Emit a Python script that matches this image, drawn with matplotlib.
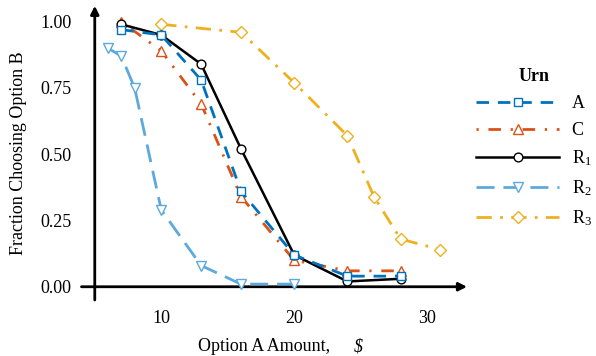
import matplotlib
matplotlib.use("Agg")
import matplotlib.pyplot as plt
from matplotlib.ticker import FormatStrFormatter

plt.rcParams['font.family'] = ['Liberation Serif', 'DejaVu Serif']
plt.rcParams['mathtext.fontset'] = 'custom'
plt.rcParams['mathtext.rm'] = 'Liberation Serif'
plt.rcParams['mathtext.it'] = 'Liberation Serif:italic'
plt.rcParams['mathtext.bf'] = 'Liberation Serif:bold'

# ---- data ----
x_A = [7, 10, 13, 16, 20, 24, 28]
y_A = [0.97, 0.95, 0.78, 0.36, 0.12, 0.04, 0.04]
x_C = [7, 10, 13, 16, 20, 24, 28]
y_C = [1.00, 0.89, 0.69, 0.34, 0.10, 0.06, 0.06]
x_R1 = [7, 10, 13, 16, 20, 24, 28]
y_R1 = [0.99, 0.95, 0.84, 0.52, 0.12, 0.02, 0.03]
x_R2 = [6, 7, 8, 10, 13, 16, 20]
y_R2 = [0.90, 0.87, 0.75, 0.29, 0.08, 0.01, 0.01]
x_R3 = [10, 16, 20, 24, 26, 28, 31]
y_R3 = [0.99, 0.96, 0.77, 0.57, 0.34, 0.18, 0.14]

labels = ['A', 'C', 'R$_1$', 'R$_2$', 'R$_3$']
x_ticks = [10, 20, 30]
y_ticks = [0.0, 0.25, 0.5, 0.75, 1.0]

fig = plt.figure(figsize=(5.96, 3.56), dpi=100)
ax = fig.add_axes([0.1367, 0.1573, 0.6469, 0.8264])

FS = 13
lA, = ax.plot(x_A, y_A, color='#0072BD', lw=2, dashes=(4.5, 3.2), marker='s', ms=6,
              mfc='white', mec='#0072BD', mew=1.0, zorder=6)
lC, = ax.plot(x_C, y_C, color='#D95319', lw=2, dashes=(0.8, 3.5, 4.5, 3.5), marker='^', ms=7.5,
              mfc='white', mec='#D95319', mew=1.0, zorder=4)
lR1, = ax.plot(x_R1, y_R1, color='black', lw=1.8, ls='-', marker='o', ms=6.3,
               mfc='white', mec='black', mew=1.0, zorder=5)
lR2, = ax.plot(x_R2, y_R2, color='#5DA9DD', lw=2, dashes=(6.5, 3.2), marker='v', ms=7.5,
               mfc='white', mec='#5DA9DD', mew=1.0, zorder=3)
lR3, = ax.plot(x_R3, y_R3, color='#EDB120', lw=2, dashes=(5.5, 3, 1, 3), marker='D', ms=6.5,
               mfc='white', mec='#EDB120', mew=1.0, zorder=2)

ax.set_xlim(4, 33)
ax.set_ylim(-0.05, 1.06)
for s in ax.spines.values():
    s.set_visible(False)
ax.set_xticks(x_ticks)
ax.set_yticks(y_ticks)
ax.yaxis.set_major_formatter(FormatStrFormatter('%.2f'))
ax.tick_params(length=0, labelsize=FS, pad=7)

# axis lines with arrows
ax.annotate('', xy=(33, 0), xytext=(4, 0), xycoords='data',
            arrowprops=dict(arrowstyle='-|>', color='black', lw=2,
                            mutation_scale=12, shrinkA=0, shrinkB=0), annotation_clip=False, zorder=1)
ax.annotate('', xy=(5, 1.06), xytext=(5, -0.05), xycoords='data',
            arrowprops=dict(arrowstyle='-|>', color='black', lw=2,
                            mutation_scale=12, shrinkA=0, shrinkB=0), annotation_clip=False, zorder=1)

ax.set_xlabel('Option A Amount,', fontsize=FS, ha='left', va='baseline')
ax.xaxis.set_label_coords(0.302, -0.174)
ax.text(0.707, -0.174, '$', fontsize=FS, style='italic', ha='left', va='baseline',
        transform=ax.transAxes)
ax.set_ylabel('Fraction Choosing Option B', fontsize=FS, labelpad=10)

leg = ax.legend([lA, lC, lR1, lR2, lR3], labels, loc='upper left',
                bbox_to_anchor=(476 / 596, 1 - 68 / 356), bbox_transform=fig.transFigure,
                frameon=False, fontsize=FS, title='Urn', handlelength=4.6,
                handletextpad=0.7, labelspacing=0.55, borderpad=0, borderaxespad=0)
leg.get_title().set_fontweight('bold')
leg.get_title().set_fontsize(FS)

fig.savefig('out.png', dpi=100)
